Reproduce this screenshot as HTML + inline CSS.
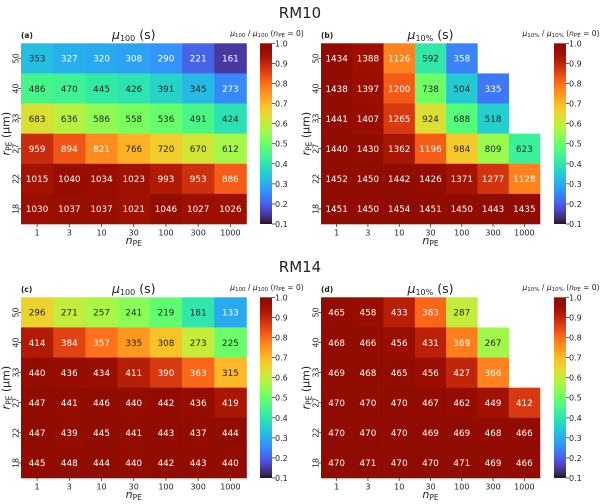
<!DOCTYPE html>
<html><head><meta charset="utf-8"><style>
body{margin:0;background:#fff;}
svg{display:block;font-family:"DejaVu Sans","Liberation Sans",sans-serif;}
</style></head><body>
<svg id="fig" width="600" height="504" viewBox="0 0 600 504">
<defs id="defs"></defs>
</svg>
<script>
const xCats = ["1","3","10","30","100","300","1000"];
const yCats = ["50","40","33","27","22","18"];
const cbTicks = [0.1,0.2,0.3,0.4,0.5,0.6,0.7,0.8,0.9,1.0];
const valsA = [[353,327,320,308,290,221,161],[486,470,445,426,391,345,273],[683,636,586,558,536,491,424],[959,894,821,766,720,670,612],[1015,1040,1034,1023,993,953,886],[1030,1037,1037,1021,1046,1027,1026]];
const valsB = [[1434,1388,1126,592,358,null,null],[1438,1397,1200,738,504,335,null],[1441,1407,1265,924,688,518,null],[1440,1430,1362,1196,984,809,623],[1452,1450,1442,1426,1371,1277,1128],[1451,1450,1454,1451,1450,1443,1435]];
const valsC = [[296,271,257,241,219,181,133],[414,384,357,335,308,273,225],[440,436,434,411,390,363,315],[447,441,446,440,442,436,419],[447,439,445,441,443,437,444],[445,448,444,440,442,443,440]];
const valsD = [[465,458,433,383,287,null,null],[468,466,456,431,369,267,null],[469,468,465,456,427,366,null],[470,470,470,467,462,449,412],[470,470,470,469,469,468,466],[470,471,470,470,471,469,466]];
const refs = [1080,1460,450,475];

const NS="http://www.w3.org/2000/svg";
const svg=document.getElementById('fig');
function mk(tag,attrs,parent){const e=document.createElementNS(NS,tag);for(const k in attrs)e.setAttribute(k,attrs[k]);(parent||svg).appendChild(e);return e;}
function turbo(x){x=Math.max(0,Math.min(1,x));
 const r=0.13572138+x*(4.61539260+x*(-42.66032258+x*(132.13108234+x*(-152.94239396+x*59.28637943))));
 const g=0.09140261+x*(2.19418839+x*(4.84296658+x*(-14.18503333+x*(4.27729857+x*2.82956604))));
 const b=0.10667330+x*(12.64194608+x*(-60.58204836+x*(110.36276771+x*(-89.90310912+x*27.34824973))));
 const c=v=>Math.round(255*Math.max(0,Math.min(1,v)));return [c(r),c(g),c(b)];}
function norm(v){return (v-0.1)/0.9;}
const defs=document.getElementById('defs');
const lg=mk('linearGradient',{id:'tg',x1:0,y1:1,x2:0,y2:0},defs);
for(let i=0;i<=40;i++){const c=turbo(i/40);mk('stop',{offset:(i/40),'stop-color':`rgb(${c})`},lg);}

const panels=[
 {vals:valsA,ref:refs[0],ox:0,oy:0,tag:"(a)",kind:"100",hx0:21,hx1:246.5,cbx:260},
 {vals:valsB,ref:refs[1],ox:300,oy:0,tag:"(b)",kind:"10%",hx0:21,hx1:240,cbx:254},
 {vals:valsC,ref:refs[2],ox:0,oy:254,tag:"(c)",kind:"100",hx0:21,hx1:246.5,cbx:260},
 {vals:valsD,ref:refs[3],ox:300,oy:254,tag:"(d)",kind:"10%",hx0:21,hx1:240,cbx:254}];

mk('text',{x:300,y:18,'font-size':15,'text-anchor':'middle',fill:'#222',}).textContent="RM10";
mk('text',{x:300,y:272,'font-size':15,'text-anchor':'middle',fill:'#222',}).textContent="RM14";

panels.forEach((p,pi)=>{
 const g=mk('g',{transform:`translate(${p.ox},${p.oy})`});
 
 
 const y0=43.3,y1=224,cw=(p.hx1-p.hx0)/xCats.length,ch=(y1-y0)/yCats.length;
 const xs=i=>p.hx0+i*cw, ys=j=>y0+j*ch;
 p.vals.forEach((row,j)=>row.forEach((v,i)=>{
  if(v===null)return;
  const c=turbo(norm(v/p.ref));
  const r=mk('rect',{x:xs(i),y:ys(j),width:cw+0.3,height:ch+0.3,fill:`rgb(${c})`},g);
  
  
  const lum=0.2126*Math.pow(c[0]/255,2.2)+0.7152*Math.pow(c[1]/255,2.2)+0.0722*Math.pow(c[2]/255,2.2);
  const t=mk('text',{x:xs(i)+cw/2,y:ys(j)+ch/2+3.3,'font-size':8.8,'text-anchor':'middle',fill:lum>0.408?'#262626':'#fff'},g);
  
  
  t.textContent=v;
 }));
 xCats.forEach((c,i)=>{
  mk('line',{x1:xs(i)+cw/2,x2:xs(i)+cw/2,y1:y1,y2:y1+3,stroke:'#333','stroke-width':0.8},g);
  const t=mk('text',{x:xs(i)+cw/2,y:y1+11.5,'font-size':8,'text-anchor':'middle',fill:'#222'},g);
  
  
  t.textContent=c;});
 yCats.forEach((c,j)=>{
  const cy=ys(j)+ch/2;
  mk('line',{x1:p.hx0-3,x2:p.hx0,y1:cy,y2:cy,stroke:'#333','stroke-width':0.8},g);
  const t=mk('text',{x:0,y:0,'font-size':8,'text-anchor':'middle',fill:'#222',transform:`translate(${p.hx0-2.5},${cy}) rotate(-90)`},g);
  
  
  t.textContent=c;});
 const xl=mk('text',{x:(p.hx0+p.hx1)/2,y:244,'font-size':11,'text-anchor':'middle',fill:'#222','font-style':'italic'},g);
 
 
 xl.innerHTML='n<tspan font-size="7.5" dy="2" font-style="normal">PE</tspan>';
 const yl=mk('text',{x:0,y:0,'font-size':11,'text-anchor':'middle',fill:'#222',transform:`translate(9.5,${(y0+y1)/2}) rotate(-90)`},g);
 
 
 yl.innerHTML='<tspan font-style="italic">r</tspan><tspan font-size="7.5" dy="2">PE</tspan><tspan dy="-2"> (μm)</tspan>';
 const tt=mk('text',{x:(p.hx0+p.hx1)/2,y:39,'font-size':12.5,'text-anchor':'middle',fill:'#222'},g);
 
 
 tt.innerHTML=`<tspan font-style="italic">μ</tspan><tspan font-size="8" dy="2">${p.kind}</tspan><tspan dy="-2"> (s)</tspan>`;
 const tg=mk('text',{x:p.hx0,y:38,'font-size':7.5,'font-weight':'bold',fill:'#222'},g);
 
 
 tg.textContent=p.tag;
 const cb=mk('rect',{x:p.cbx,y:y0,width:12,height:y1-y0,fill:'url(#tg)'},g);
 
 
 cbTicks.forEach(v=>{
  const cy=y1-(v-0.1)/0.9*(y1-y0);
  mk('line',{x1:p.cbx+12,x2:p.cbx+15,y1:cy,y2:cy,stroke:'#333','stroke-width':0.8},g);
  const t=mk('text',{x:p.cbx+15,y:cy+3,'font-size':8,fill:'#222'},g);
  
  
  t.textContent=v.toFixed(1);});
 const cl=mk('text',{x:p.cbx+7,y:36,'font-size':7.5,'text-anchor':'middle',fill:'#222'},g);
 
 
 cl.innerHTML=`<tspan font-style="italic">μ</tspan><tspan font-size="5.5" dy="1">${p.kind}</tspan><tspan dy="-1"> / </tspan><tspan font-style="italic">μ</tspan><tspan font-size="5.5" dy="1">${p.kind}</tspan><tspan dy="-1"> (</tspan><tspan font-style="italic">n</tspan><tspan font-size="5.5" dy="1">PE</tspan><tspan dy="-1"> = 0)</tspan>`;
});
</script>
</body></html>
